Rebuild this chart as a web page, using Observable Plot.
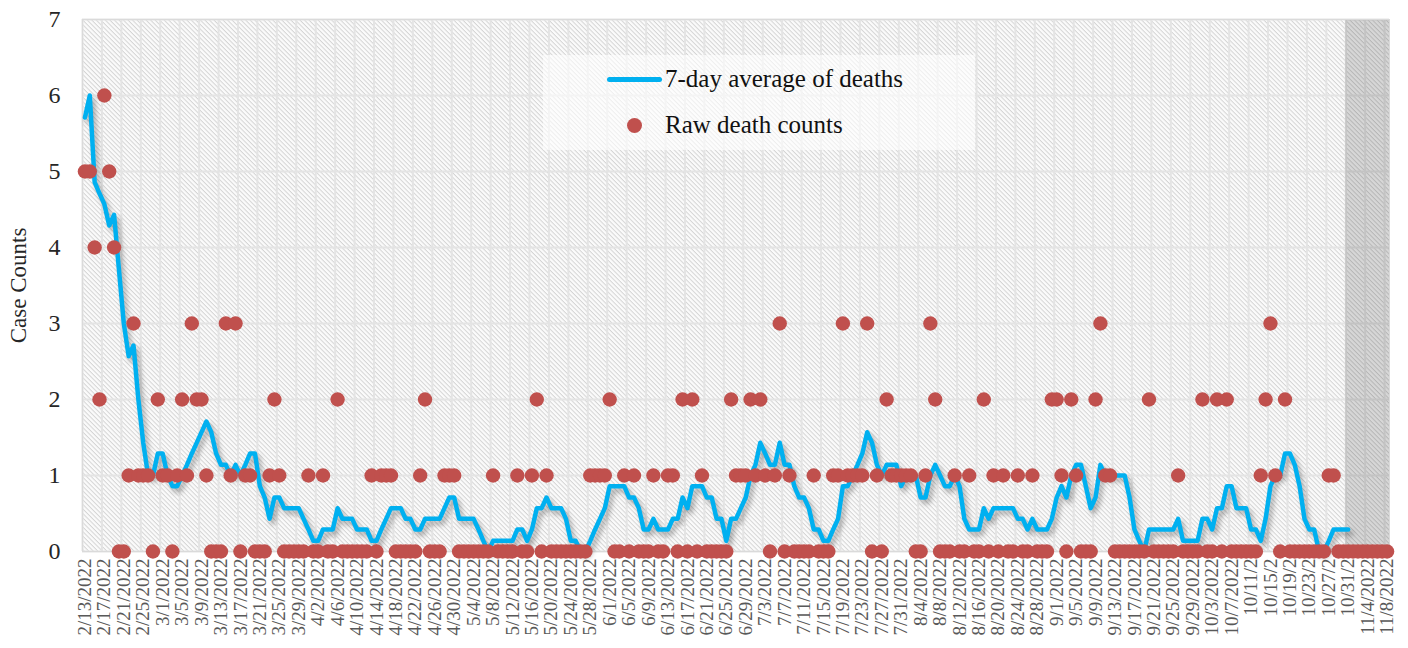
<!DOCTYPE html>
<html><head><meta charset="utf-8">
<script src="https://cdn.jsdelivr.net/npm/d3@7"></script>
<script src="https://cdn.jsdelivr.net/npm/@observablehq/plot@0.6"></script>
<style>
html,body{margin:0;padding:0;background:#fff;}
#wrap{position:relative;width:1408px;height:648px;font-family:"Liberation Serif",serif;}
#legend{position:absolute;left:543px;top:55px;width:432px;height:95px;background:rgba(255,255,255,0.6);}
#legend .row{position:absolute;left:0;height:30px;display:flex;align-items:center;font-size:25px;color:#111;white-space:nowrap;}
#legend .ln{position:absolute;left:64px;width:55px;height:5px;border-radius:3px;background:#00b0f0;}
#legend .dt{position:absolute;left:84px;width:15px;height:15px;border-radius:50%;background:#c0504d;}
#legend .tx{position:absolute;left:122px;}
</style></head><body><div id="wrap"></div>
<script>
// Day 0 = 2/13/2022, one category per day through 11/8/2022
const rawDeaths = [
5,5,4,2,6,5,4,0,0,1,
3,1,1,1,0,2,1,1,0,1,
2,1,3,2,2,1,0,0,0,3,
1,3,0,1,1,0,0,0,1,2,
1,0,0,0,0,0,1,0,0,1,
0,0,2,0,0,0,0,0,0,1,
0,1,1,1,0,0,0,0,0,1,
2,0,0,0,1,1,1,0,0,0,
0,0,0,0,1,0,0,0,0,1,
0,0,1,2,0,1,0,0,0,0,
0,0,0,0,
1,1,1,1,2,
0,0,1,0,1,0,0,0,1,0,
0,1,1,0,2,0,2,0,1,0,
0,0,0,0,2,1,1,1,2,1,
2,1,0,1,3,0,1,0,0,0,
0,1,0,0,0,1,1,3,1,1,
1,1,3,0,1,0,2,1,1,1,
1,1,0,0,1,3,2,0,0,0,
1,0,0,1,0,0,2,0,1,0,
1,0,0,1,0,0,1,0,0,0,
2,2,1,0,2,1,0,0,0,2,
3,1,1,0,0,0,0,0,0,0,
2,0,0,0,0,0,1,0,0,0,
0,2,0,0,2,0,2,0,0,0,
0,0,0,1,2,3,1,0,2,0,
0,0,0,0,0,0,0,1,1,0,
0,0,0,0,0,0,0,0,0,0
];
const avgDeaths = [
5.71,6,4.86,4.71,4.57,4.29,4.43,3.71,3,2.57,
2.71,2,1.43,1,1,1.29,1.29,1,0.86,0.86,
1,1.14,1.29,1.43,1.57,1.71,1.57,1.29,1.14,1.14,
1,1.14,1,1.14,1.29,1.29,0.86,0.71,0.43,0.71,
0.71,0.57,0.57,0.57,0.57,0.43,0.29,0.14,0.14,0.29,
0.29,0.29,0.57,0.43,0.43,0.43,0.29,0.29,0.29,0.14,
0.14,0.29,0.43,0.57,0.57,0.57,0.43,0.43,0.29,0.29,
0.43,0.43,0.43,0.43,0.57,0.71,0.71,0.43,0.43,0.43,
0.43,0.29,0.14,0,0.14,0.14,0.14,0.14,0.14,0.29,
0.29,0.14,0.29,0.57,0.57,0.71,0.57,0.57,0.57,0.43,
0.14,0.14,0,0,
0.14,0.29,0.43,0.57,0.86,
0.86,0.86,0.86,0.71,0.71,0.57,0.29,0.29,0.43,0.29,
0.29,0.29,0.43,0.43,0.71,0.57,0.86,0.86,0.86,0.71,
0.71,0.43,0.43,0.14,0.43,0.43,0.57,0.71,1,1.14,
1.43,1.29,1.14,1.14,1.43,1.14,1.14,0.86,0.71,0.71,
0.57,0.29,0.29,0.14,0.14,0.29,0.43,0.86,0.86,1,
1.14,1.29,1.57,1.43,1.14,1,1.14,1.14,1.14,0.86,
1,1,1,0.71,0.71,1,1.14,1,0.86,0.86,
1,0.86,0.43,0.29,0.29,0.29,0.57,0.43,0.57,0.57,
0.57,0.57,0.57,0.43,0.43,0.29,0.43,0.29,0.29,0.29,
0.43,0.71,0.86,0.71,1,1.14,1.14,0.86,0.57,0.71,
1.14,1,1,1,1,1,0.71,0.29,0.14,0,
0.29,0.29,0.29,0.29,0.29,0.29,0.43,0.14,0.14,0.14,
0.14,0.43,0.43,0.29,0.57,0.57,0.86,0.86,0.57,0.57,
0.57,0.29,0.29,0.14,0.43,0.86,1,1,1.29,1.29,
1.14,0.86,0.43,0.29,0.29,0,0,0.14,0.29,0.29,
0.29,0.29
];
const tickLabels = ["2/13/2022","2/17/2022","2/21/2022","2/25/2022","3/1/2022","3/5/2022","3/9/2022","3/13/2022","3/17/2022","3/21/2022","3/25/2022","3/29/2022","4/2/2022","4/6/2022","4/10/2022","4/14/2022","4/18/2022","4/22/2022","4/26/2022","4/30/2022","5/4/2022","5/8/2022","5/12/2022","5/16/2022","5/20/2022","5/24/2022","5/28/2022","6/1/2022","6/5/2022","6/9/2022","6/13/2022","6/17/2022","6/21/2022","6/25/2022","6/29/2022","7/3/2022","7/7/2022","7/11/2022","7/15/2022","7/19/2022","7/23/2022","7/27/2022","7/31/2022","8/4/2022","8/8/2022","8/12/2022","8/16/2022","8/20/2022","8/24/2022","8/28/2022","9/1/2022","9/5/2022","9/9/2022","9/13/2022","9/17/2022","9/21/2022","9/25/2022","9/29/2022","10/3/2022","10/7/2022","10/11/2","10/15/2","10/19/2","10/23/2","10/27/2","10/31/2","11/4/2022","11/8/2022"];
const tickEvery = 4;
const yTicks = [0,1,2,3,4,5,6,7];
const shadedStartDay = 260; // 10/31/2022 onward is shaded
const yTitle = "Case Counts";
const seriesNames = ["7-day average of deaths","Raw death counts"];

const nDays = rawDeaths.length;
const rawData = rawDeaths.map((v,i)=>({day:i, value:v}));
const avgData = avgDeaths.map((v,i)=>({day:i, value:v}));
const tickDays = tickLabels.map((_,i)=>i*tickEvery);
const gridDays = tickDays.map(d=>d-0.5);

const svg = Plot.plot({
  width:1408, height:648,
  marginLeft:82, marginRight:19, marginTop:19, marginBottom:97,
  x:{type:"linear", domain:[-0.5, nDays-0.5], axis:null},
  y:{domain:[0,7], axis:null},
  style:{fontFamily:"'Liberation Serif', serif", background:"transparent", overflow:"visible"},
  marks:[
    Plot.frame({fill:"url(#hatch)"}),
    Plot.ruleX(gridDays, {stroke:"#e4e4e4", strokeWidth:2}),
    Plot.ruleY(yTicks, {stroke:"#e4e4e4", strokeWidth:2}),
    Plot.rect([shadedStartDay], {x1:d=>d-0.5, x2:nDays-0.5, y1:0, y2:7, fill:"#000", fillOpacity:0.14}),
    Plot.frame({stroke:"#dadada", strokeWidth:1}),
    Plot.line(avgData, {x:"day", y:"value", stroke:"#00b0f0", strokeWidth:4.5, strokeLinejoin:"round", strokeLinecap:"round"}),
    Plot.dot(rawData, {x:"day", y:"value", r:7.2, fill:"#c0504d", stroke:"none"}),
    Plot.axisX({ticks:tickDays, tickFormat:d=>tickLabels[Math.round(d/tickEvery)], tickRotate:-90, tickSize:0, tickPadding:7, fontSize:19, color:"#595959", label:null}),
    Plot.axisY({ticks:yTicks, tickFormat:d=>String(d), tickSize:0, tickPadding:22, fontSize:24, color:"#262626", label:null}),
    Plot.text([yTitle], {frameAnchor:"left", dx:-64, rotate:-90, textAnchor:"middle", fontSize:23, fill:"#262626"})
  ]
});

const defs = d3.select(svg).insert("defs", ":first-child");
const pat = defs.append("pattern").attr("id","hatch").attr("patternUnits","userSpaceOnUse")
  .attr("width",3.2).attr("height",3.2).attr("patternTransform","rotate(45)");
pat.append("rect").attr("width",3.2).attr("height",3.2).attr("fill","#fbfbfb");
pat.append("rect").attr("x",0).attr("y",0).attr("width",3.2).attr("height",1).attr("fill","#d4d4d4");
d3.select(svg).select('g[aria-label="line"]').style("filter","drop-shadow(3px 4px 2.5px rgba(0,0,0,0.3))");

const wrap = document.getElementById("wrap");
wrap.appendChild(svg);
const lg = document.createElement("div");
lg.id = "legend";
lg.innerHTML =
  `<div class="row" style="top:9px;width:100%"><span class="ln"></span><span class="tx">${seriesNames[0]}</span></div>` +
  `<div class="row" style="top:55px;width:100%"><span class="dt"></span><span class="tx">${seriesNames[1]}</span></div>`;
wrap.appendChild(lg);
</script></body></html>
